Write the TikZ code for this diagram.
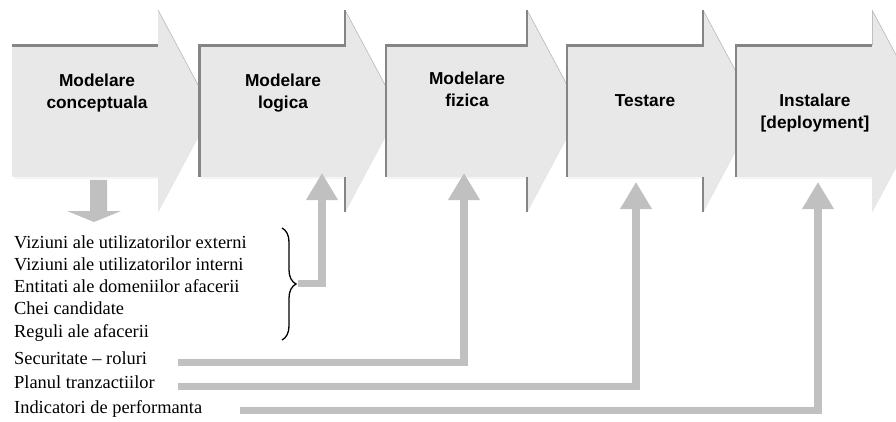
\documentclass[tikz,border=0pt]{standalone}
\usepackage{fontspec}
\setmainfont{Liberation Serif}
\newfontfamily\arialfont{Liberation Sans}
\usetikzlibrary{arrows.meta,decorations.pathreplacing}
\definecolor{bodyfill}{HTML}{E8E8E8}
\definecolor{edgedark}{HTML}{858585}
\definecolor{conngray}{HTML}{C0C0C0}
\tikzset{
  darkedge/.style={draw=edgedark,line width=2.4pt,line cap=butt},
  upslant/.style={draw=black!28,line width=0.6pt},
  loslant/.style={draw=black!10,line width=0.6pt},
  conn/.style={draw=conngray,line width=7.5pt,line join=miter,
    -{Triangle[width=30pt,length=27pt]}},
  stage/.style={font=\arialfont\bfseries\fontsize{17.3}{21.5}\selectfont,
    anchor=base,inner sep=0pt},
  item/.style={font=\fontsize{18.4}{22}\selectfont,anchor=base west,inner sep=0pt},
}
% #1 left, #2 head x, #3 tip x
\newcommand{\chevshape}[3]{%
  \fill[black!4] (#1+2,177) rectangle (#2,179.5);
  \fill[bodyfill] (#1,44.5) -- (#2,44.5) -- (#2,10) -- (#3,111) -- (#2,212)
    -- (#2,177) -- (#1,177) -- cycle;
  \draw[upslant] (#2,10) -- (#3,111);
  \draw[loslant] (#3,111) -- (#2,212);
}
\begin{document}
\begin{tikzpicture}[x=1pt,y=-1pt]
\useasboundingbox (0,0) rectangle (896,422);
\fill[white] (0,0) rectangle (896,422);
\clip (0,0) rectangle (896,422);

% stage chevrons
\chevshape{12}{158}{212}
\draw[darkedge] (12,45.5) -- (158,45.5);

\chevshape{198.5}{345}{399}
\draw[darkedge] (199.5,177) -- (199.5,45.5) -- (345,45.5) -- (345,10);
\draw[darkedge] (345,177) -- (345,212);

\chevshape{385}{527}{581}
\draw[darkedge] (386,177) -- (386,45.5) -- (527,45.5) -- (527,10);
\draw[darkedge] (527,177) -- (527,212);

\chevshape{566}{703}{757}
\draw[darkedge] (567,177) -- (567,45.5) -- (703,45.5) -- (703,10);
\draw[darkedge] (703,177) -- (703,212);

\chevshape{735}{872}{926}
\draw[darkedge] (736,177) -- (736,45.5) -- (872,45.5);
\draw[draw=black!25,line width=0.8pt] (872,45) -- (872,10);

% stage labels
\node[stage] (t1) at (97,87) {\begin{tabular}[t]{@{}c@{}}Modelare\\conceptuala\end{tabular}};
\node[stage] (t2) at (283,87) {\begin{tabular}[t]{@{}c@{}}Modelare\\logica\end{tabular}};
\node[stage] (t3) at (467,85) {\begin{tabular}[t]{@{}c@{}}Modelare\\fizica\end{tabular}};
\node[stage] (t4) at (645,107) {Testare};
\node[stage] (t5) at (815,107) {\begin{tabular}[t]{@{}c@{}}Instalare\\{[deployment]}\end{tabular}};

% down arrow under first stage
\fill[conngray] (90,180) -- (107,180) -- (107,211) -- (121,211) -- (94,222)
  -- (67,211) -- (90,211) -- cycle;

% item list
\node[item] (l1) at (14,248) {Viziuni ale utilizatorilor externi};
\node[item] (l2) at (14,270) {Viziuni ale utilizatorilor interni};
\node[item] (l3) at (14,292) {Entitati ale domeniilor afacerii};
\node[item] (l4) at (14,314) {Chei candidate};
\node[item] (l5) at (14,337) {Reguli ale afacerii};
\node[item] (l6) at (14,364) {Securitate -- roluri};
\node[item] (l7) at (14,388) {Planul tranzactiilor};
\node[item] (l8) at (14,413) {Indicatori de performanta};

% brace
\draw[line width=1.3pt,decorate,decoration={brace,amplitude=14pt}] (282,228) -- (282,340);

% connector coordinates
\coordinate (bt) at (298,283.5);
\coordinate (s1) at (178,362.5);
\coordinate (s2) at (178,386.5);
\coordinate (s3) at (240,410.5);
\coordinate (h2) at (322,173);
\coordinate (h3) at (464,173);
\coordinate (h4) at (636,182);
\coordinate (h5) at (818,182);

\draw[conn] (bt) -| (h2);
\draw[conn] (s1) -| (h3);
\draw[conn] (s2) -| (h4);
\draw[conn] (s3) -| (h5);
\end{tikzpicture}
\end{document}
